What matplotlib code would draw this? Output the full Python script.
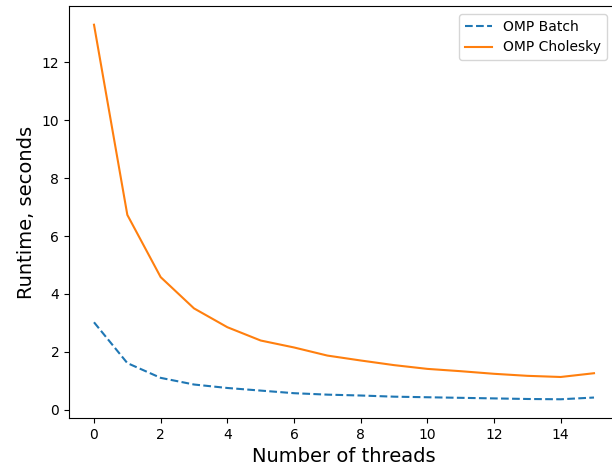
import matplotlib
matplotlib.use("Agg")
import matplotlib.pyplot as plt

# Runtime per thread count
threads = list(range(16))
omp_batch = [3.02, 1.61, 1.10, 0.87, 0.75, 0.66, 0.57, 0.52, 0.49, 0.45, 0.43, 0.41, 0.39, 0.37, 0.36, 0.42]
omp_cholesky = [13.3, 6.73, 4.58, 3.5, 2.85, 2.39, 2.15, 1.87, 1.70, 1.54, 1.41, 1.33, 1.24, 1.17, 1.13, 1.26]

fig = plt.figure(figsize=(6.12, 4.72), dpi=100)
# axes run past the right edge of the picture, like the cropped original
ax = fig.add_axes([69 / 612, 54 / 472, 550 / 612, 412 / 472])

ax.plot(threads, omp_batch, '--', label='OMP Batch')
ax.plot(threads, omp_cholesky, label='OMP Cholesky')

ax.set_xlabel('Number of threads', fontsize=14)
ax.set_ylabel('Runtime, seconds', fontsize=14)
ax.set_xticks(range(0, 16, 2))
ax.spines['right'].set_visible(False)
ax.legend(loc='upper right', bbox_to_anchor=(607 / 612, 1 - 14 / 472),
          bbox_transform=fig.transFigure, borderaxespad=0)

fig.savefig('out.png', dpi=100)
